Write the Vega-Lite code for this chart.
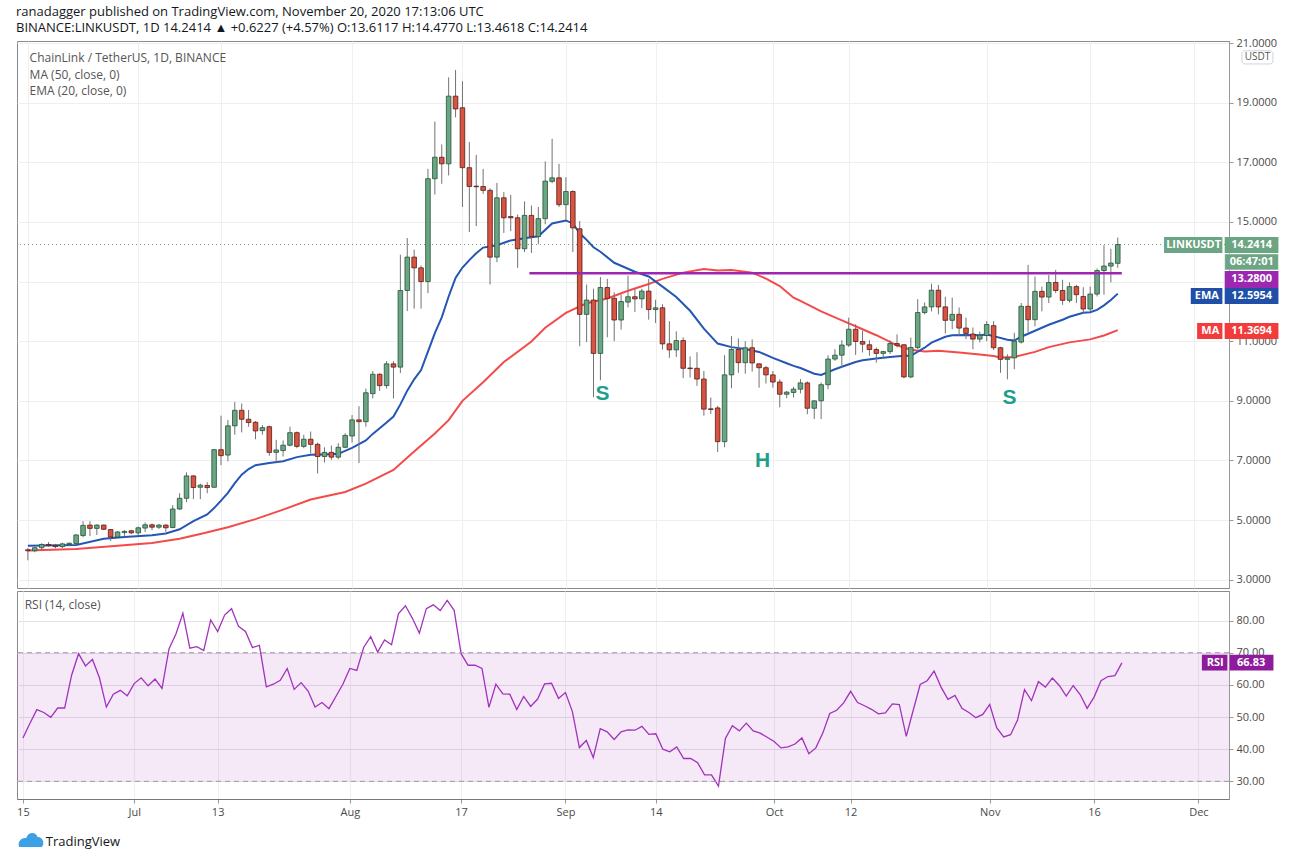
{
  "$schema": "https://vega.github.io/schema/vega-lite/v6.json",
  "description": "LINKUSDT daily candles with EMA20, MA50 and RSI(14), head-and-shoulders neckline",
  "background": "white",
  "padding": {"left": 16, "top": 5, "right": 0, "bottom": 0},
  "title": {
    "text": "ranadagger published on TradingView.com, November 20, 2020 17:13:06 UTC",
    "subtitle": "BINANCE:LINKUSDT, 1D  14.2414 ▲ +0.6227 (+4.57%) O:13.6117 H:14.4770 L:13.4618 C:14.2414",
    "anchor": "start",
    "font": "Open Sans",
    "fontSize": 13,
    "fontWeight": "normal",
    "color": "#131722",
    "subtitleFont": "Open Sans",
    "subtitleFontSize": 13,
    "subtitleColor": "#131722",
    "subtitlePadding": 3,
    "offset": 2
  },
  "data": {"values": [{}]},
  "datasets": {
    "candles": [
      {"date": "2020-06-15", "open": 4.0, "high": 4.06, "low": 3.65, "close": 3.97, "rsi": 43.5},
      {"date": "2020-06-16", "open": 3.97, "high": 4.1, "low": 3.92, "close": 4.07, "rsi": 48.0},
      {"date": "2020-06-17", "open": 4.07, "high": 4.22, "low": 4.0, "close": 4.18, "rsi": 52.3},
      {"date": "2020-06-18", "open": 4.18, "high": 4.26, "low": 4.1, "close": 4.15, "rsi": 51.4},
      {"date": "2020-06-19", "open": 4.15, "high": 4.2, "low": 4.05, "close": 4.11, "rsi": 49.9},
      {"date": "2020-06-20", "open": 4.11, "high": 4.24, "low": 4.06, "close": 4.2, "rsi": 52.8},
      {"date": "2020-06-21", "open": 4.18, "high": 4.25, "low": 4.14, "close": 4.22, "rsi": 52.8},
      {"date": "2020-06-22", "open": 4.21, "high": 4.52, "low": 4.17, "close": 4.5, "rsi": 63.0},
      {"date": "2020-06-23", "open": 4.48, "high": 4.96, "low": 4.42, "close": 4.82, "rsi": 69.7},
      {"date": "2020-06-24", "open": 4.83, "high": 4.96, "low": 4.46, "close": 4.72, "rsi": 65.9},
      {"date": "2020-06-25", "open": 4.72, "high": 4.86, "low": 4.5, "close": 4.83, "rsi": 67.9},
      {"date": "2020-06-26", "open": 4.83, "high": 4.85, "low": 4.66, "close": 4.69, "rsi": 62.2},
      {"date": "2020-06-27", "open": 4.68, "high": 4.7, "low": 4.3, "close": 4.43, "rsi": 53.1},
      {"date": "2020-06-28", "open": 4.43, "high": 4.63, "low": 4.4, "close": 4.6, "rsi": 57.1},
      {"date": "2020-06-29", "open": 4.58, "high": 4.66, "low": 4.44, "close": 4.62, "rsi": 58.3},
      {"date": "2020-06-30", "open": 4.64, "high": 4.67, "low": 4.53, "close": 4.57, "rsi": 56.6},
      {"date": "2020-07-01", "open": 4.57, "high": 4.78, "low": 4.5, "close": 4.74, "rsi": 60.4},
      {"date": "2020-07-02", "open": 4.73, "high": 4.92, "low": 4.6, "close": 4.84, "rsi": 62.2},
      {"date": "2020-07-03", "open": 4.84, "high": 4.88, "low": 4.66, "close": 4.76, "rsi": 59.7},
      {"date": "2020-07-04", "open": 4.76, "high": 4.87, "low": 4.7, "close": 4.83, "rsi": 61.8},
      {"date": "2020-07-05", "open": 4.83, "high": 4.86, "low": 4.6, "close": 4.74, "rsi": 58.9},
      {"date": "2020-07-06", "open": 4.75, "high": 5.5, "low": 4.72, "close": 5.37, "rsi": 71.2},
      {"date": "2020-07-07", "open": 5.37, "high": 5.9, "low": 5.34, "close": 5.73, "rsi": 75.8},
      {"date": "2020-07-08", "open": 5.73, "high": 6.6, "low": 5.6, "close": 6.48, "rsi": 82.3},
      {"date": "2020-07-09", "open": 6.48, "high": 6.5, "low": 5.7, "close": 6.09, "rsi": 71.4},
      {"date": "2020-07-10", "open": 6.1, "high": 6.22, "low": 5.7, "close": 6.17, "rsi": 71.9},
      {"date": "2020-07-11", "open": 6.16, "high": 6.27, "low": 5.9, "close": 6.09, "rsi": 70.7},
      {"date": "2020-07-12", "open": 6.1, "high": 7.38, "low": 6.08, "close": 7.36, "rsi": 80.2},
      {"date": "2020-07-13", "open": 7.36, "high": 8.5, "low": 6.84, "close": 7.16, "rsi": 76.6},
      {"date": "2020-07-14", "open": 7.18, "high": 8.36, "low": 6.97, "close": 8.16, "rsi": 81.7},
      {"date": "2020-07-15", "open": 8.16, "high": 8.96, "low": 7.86, "close": 8.68, "rsi": 83.7},
      {"date": "2020-07-16", "open": 8.68, "high": 8.91, "low": 7.94, "close": 8.38, "rsi": 78.2},
      {"date": "2020-07-17", "open": 8.38, "high": 8.69, "low": 8.13, "close": 8.27, "rsi": 76.6},
      {"date": "2020-07-18", "open": 8.28, "high": 8.32, "low": 7.71, "close": 7.99, "rsi": 71.6},
      {"date": "2020-07-19", "open": 8.0, "high": 8.19, "low": 7.86, "close": 8.1, "rsi": 72.3},
      {"date": "2020-07-20", "open": 8.13, "high": 8.17, "low": 7.16, "close": 7.27, "rsi": 59.4},
      {"date": "2020-07-21", "open": 7.27, "high": 7.69, "low": 6.93, "close": 7.35, "rsi": 60.2},
      {"date": "2020-07-22", "open": 7.33, "high": 7.67, "low": 7.13, "close": 7.51, "rsi": 61.4},
      {"date": "2020-07-23", "open": 7.51, "high": 8.13, "low": 7.47, "close": 7.93, "rsi": 65.1},
      {"date": "2020-07-24", "open": 7.93, "high": 7.97, "low": 7.41, "close": 7.47, "rsi": 58.6},
      {"date": "2020-07-25", "open": 7.47, "high": 7.86, "low": 7.41, "close": 7.71, "rsi": 60.7},
      {"date": "2020-07-26", "open": 7.71, "high": 7.97, "low": 7.24, "close": 7.54, "rsi": 58.1},
      {"date": "2020-07-27", "open": 7.54, "high": 7.6, "low": 6.56, "close": 7.13, "rsi": 53.1},
      {"date": "2020-07-28", "open": 7.13, "high": 7.44, "low": 6.93, "close": 7.27, "rsi": 54.5},
      {"date": "2020-07-29", "open": 7.27, "high": 7.5, "low": 7.02, "close": 7.11, "rsi": 52.6},
      {"date": "2020-07-30", "open": 7.11, "high": 7.58, "low": 7.04, "close": 7.44, "rsi": 56.4},
      {"date": "2020-07-31", "open": 7.44, "high": 7.91, "low": 7.41, "close": 7.84, "rsi": 60.2},
      {"date": "2020-08-01", "open": 7.82, "high": 8.52, "low": 7.6, "close": 8.36, "rsi": 65.1},
      {"date": "2020-08-02", "open": 8.36, "high": 8.82, "low": 6.91, "close": 8.3, "rsi": 64.5},
      {"date": "2020-08-03", "open": 8.3, "high": 9.41, "low": 8.13, "close": 9.27, "rsi": 71.7},
      {"date": "2020-08-04", "open": 9.24, "high": 10.0, "low": 9.08, "close": 9.89, "rsi": 75.0},
      {"date": "2020-08-05", "open": 9.89, "high": 9.92, "low": 9.33, "close": 9.51, "rsi": 70.2},
      {"date": "2020-08-06", "open": 9.51, "high": 10.33, "low": 9.41, "close": 10.24, "rsi": 74.0},
      {"date": "2020-08-07", "open": 10.24, "high": 10.33, "low": 9.08, "close": 10.13, "rsi": 72.5},
      {"date": "2020-08-08", "open": 10.13, "high": 13.9, "low": 9.93, "close": 12.7, "rsi": 82.2},
      {"date": "2020-08-09", "open": 12.7, "high": 14.46, "low": 12.01, "close": 13.82, "rsi": 84.6},
      {"date": "2020-08-10", "open": 13.82, "high": 14.07, "low": 12.09, "close": 13.46, "rsi": 80.7},
      {"date": "2020-08-11", "open": 13.46, "high": 13.54, "low": 12.09, "close": 13.0, "rsi": 76.1},
      {"date": "2020-08-12", "open": 13.0, "high": 16.78, "low": 12.61, "close": 16.45, "rsi": 83.7},
      {"date": "2020-08-13", "open": 16.45, "high": 18.37, "low": 15.92, "close": 17.17, "rsi": 84.9},
      {"date": "2020-08-14", "open": 17.17, "high": 17.6, "low": 16.28, "close": 16.95, "rsi": 83.1},
      {"date": "2020-08-15", "open": 16.95, "high": 19.85, "low": 16.56, "close": 19.22, "rsi": 86.3},
      {"date": "2020-08-16", "open": 19.22, "high": 20.1, "low": 18.51, "close": 18.79, "rsi": 83.2},
      {"date": "2020-08-17", "open": 18.83, "high": 19.72, "low": 15.5, "close": 16.82, "rsi": 69.7},
      {"date": "2020-08-18", "open": 16.82, "high": 17.68, "low": 14.66, "close": 16.19, "rsi": 66.1},
      {"date": "2020-08-19", "open": 16.2, "high": 17.25, "low": 14.86, "close": 16.18, "rsi": 66.1},
      {"date": "2020-08-20", "open": 16.19, "high": 16.78, "low": 15.94, "close": 16.06, "rsi": 65.1},
      {"date": "2020-08-21", "open": 16.06, "high": 16.13, "low": 12.9, "close": 13.82, "rsi": 53.0},
      {"date": "2020-08-22", "open": 13.82, "high": 16.31, "low": 13.65, "close": 15.81, "rsi": 60.2},
      {"date": "2020-08-23", "open": 15.81, "high": 16.0, "low": 14.63, "close": 15.14, "rsi": 57.2},
      {"date": "2020-08-24", "open": 15.18, "high": 15.91, "low": 14.69, "close": 15.14, "rsi": 57.1},
      {"date": "2020-08-25", "open": 15.14, "high": 15.25, "low": 13.46, "close": 14.1, "rsi": 52.3},
      {"date": "2020-08-26", "open": 14.1, "high": 15.69, "low": 13.99, "close": 15.22, "rsi": 56.4},
      {"date": "2020-08-27", "open": 15.22, "high": 15.55, "low": 13.96, "close": 14.51, "rsi": 53.3},
      {"date": "2020-08-28", "open": 14.51, "high": 15.5, "low": 14.25, "close": 15.11, "rsi": 55.6},
      {"date": "2020-08-29", "open": 15.11, "high": 17.03, "low": 14.92, "close": 16.37, "rsi": 60.3},
      {"date": "2020-08-30", "open": 16.36, "high": 17.79, "low": 16.3, "close": 16.48, "rsi": 60.5},
      {"date": "2020-08-31", "open": 16.48, "high": 16.95, "low": 15.5, "close": 15.58, "rsi": 55.8},
      {"date": "2020-09-01", "open": 15.58, "high": 16.5, "low": 15.07, "close": 16.02, "rsi": 57.6},
      {"date": "2020-09-02", "open": 16.02, "high": 16.06, "low": 13.99, "close": 14.8, "rsi": 51.7},
      {"date": "2020-09-03", "open": 14.77, "high": 15.03, "low": 10.83, "close": 11.9, "rsi": 40.5},
      {"date": "2020-09-04", "open": 11.9, "high": 12.9, "low": 10.97, "close": 12.38, "rsi": 42.7},
      {"date": "2020-09-05", "open": 12.38, "high": 12.76, "low": 9.12, "close": 10.59, "rsi": 37.4},
      {"date": "2020-09-06", "open": 10.59, "high": 13.15, "low": 9.69, "close": 12.8, "rsi": 46.4},
      {"date": "2020-09-07", "open": 12.8, "high": 13.09, "low": 11.13, "close": 12.44, "rsi": 45.4},
      {"date": "2020-09-08", "open": 12.44, "high": 12.64, "low": 11.0, "close": 11.71, "rsi": 43.0},
      {"date": "2020-09-09", "open": 11.71, "high": 12.56, "low": 11.39, "close": 12.33, "rsi": 45.4},
      {"date": "2020-09-10", "open": 12.31, "high": 13.2, "low": 12.13, "close": 12.49, "rsi": 46.0},
      {"date": "2020-09-11", "open": 12.49, "high": 12.76, "low": 11.98, "close": 12.42, "rsi": 45.9},
      {"date": "2020-09-12", "open": 12.42, "high": 12.76, "low": 12.11, "close": 12.68, "rsi": 47.1},
      {"date": "2020-09-13", "open": 12.68, "high": 13.09, "low": 11.72, "close": 12.06, "rsi": 44.6},
      {"date": "2020-09-14", "open": 12.06, "high": 12.39, "low": 11.61, "close": 12.12, "rsi": 44.8},
      {"date": "2020-09-15", "open": 12.12, "high": 12.24, "low": 10.72, "close": 10.91, "rsi": 40.0},
      {"date": "2020-09-16", "open": 10.91, "high": 11.67, "low": 10.44, "close": 10.71, "rsi": 39.2},
      {"date": "2020-09-17", "open": 10.71, "high": 11.33, "low": 10.47, "close": 11.02, "rsi": 40.7},
      {"date": "2020-09-18", "open": 11.02, "high": 11.13, "low": 9.76, "close": 10.09, "rsi": 37.1},
      {"date": "2020-09-19", "open": 10.1, "high": 10.49, "low": 9.78, "close": 10.08, "rsi": 37.1},
      {"date": "2020-09-20", "open": 10.09, "high": 10.63, "low": 9.5, "close": 9.73, "rsi": 35.8},
      {"date": "2020-09-21", "open": 9.73, "high": 10.0, "low": 8.5, "close": 8.72, "rsi": 32.0},
      {"date": "2020-09-22", "open": 8.73, "high": 9.11, "low": 8.56, "close": 8.71, "rsi": 32.0},
      {"date": "2020-09-23", "open": 8.76, "high": 8.83, "low": 7.28, "close": 7.63, "rsi": 28.5},
      {"date": "2020-09-24", "open": 7.63, "high": 10.53, "low": 7.44, "close": 9.87, "rsi": 43.3},
      {"date": "2020-09-25", "open": 9.87, "high": 11.17, "low": 9.42, "close": 10.72, "rsi": 47.3},
      {"date": "2020-09-26", "open": 10.72, "high": 11.09, "low": 9.94, "close": 10.28, "rsi": 45.7},
      {"date": "2020-09-27", "open": 10.28, "high": 11.0, "low": 9.91, "close": 10.78, "rsi": 48.1},
      {"date": "2020-09-28", "open": 10.78, "high": 11.06, "low": 9.98, "close": 10.27, "rsi": 45.7},
      {"date": "2020-09-29", "open": 10.24, "high": 10.25, "low": 9.44, "close": 10.11, "rsi": 45.0},
      {"date": "2020-09-30", "open": 10.11, "high": 10.17, "low": 9.58, "close": 9.87, "rsi": 43.7},
      {"date": "2020-10-01", "open": 9.87, "high": 10.0, "low": 9.44, "close": 9.63, "rsi": 42.4},
      {"date": "2020-10-02", "open": 9.63, "high": 9.72, "low": 8.78, "close": 9.22, "rsi": 40.4},
      {"date": "2020-10-03", "open": 9.22, "high": 9.33, "low": 9.09, "close": 9.29, "rsi": 40.7},
      {"date": "2020-10-04", "open": 9.28, "high": 9.47, "low": 9.11, "close": 9.39, "rsi": 41.6},
      {"date": "2020-10-05", "open": 9.39, "high": 9.73, "low": 9.25, "close": 9.6, "rsi": 43.5},
      {"date": "2020-10-06", "open": 9.6, "high": 9.65, "low": 8.55, "close": 8.75, "rsi": 38.6},
      {"date": "2020-10-07", "open": 8.75, "high": 9.0, "low": 8.39, "close": 9.0, "rsi": 40.4},
      {"date": "2020-10-08", "open": 9.0, "high": 9.61, "low": 8.39, "close": 9.54, "rsi": 45.0},
      {"date": "2020-10-09", "open": 9.54, "high": 10.53, "low": 9.39, "close": 10.4, "rsi": 51.1},
      {"date": "2020-10-10", "open": 10.4, "high": 10.73, "low": 10.34, "close": 10.53, "rsi": 52.1},
      {"date": "2020-10-11", "open": 10.53, "high": 11.03, "low": 10.12, "close": 10.87, "rsi": 54.4},
      {"date": "2020-10-12", "open": 10.87, "high": 11.79, "low": 10.81, "close": 11.4, "rsi": 58.0},
      {"date": "2020-10-13", "open": 11.4, "high": 11.57, "low": 10.54, "close": 10.99, "rsi": 54.5},
      {"date": "2020-10-14", "open": 10.99, "high": 11.35, "low": 10.62, "close": 10.9, "rsi": 53.5},
      {"date": "2020-10-15", "open": 10.88, "high": 11.03, "low": 10.51, "close": 10.72, "rsi": 52.4},
      {"date": "2020-10-16", "open": 10.72, "high": 10.79, "low": 10.28, "close": 10.59, "rsi": 51.0},
      {"date": "2020-10-17", "open": 10.59, "high": 10.68, "low": 10.4, "close": 10.65, "rsi": 51.3},
      {"date": "2020-10-18", "open": 10.65, "high": 11.03, "low": 10.57, "close": 10.92, "rsi": 54.1},
      {"date": "2020-10-19", "open": 10.92, "high": 11.23, "low": 10.79, "close": 10.86, "rsi": 53.9},
      {"date": "2020-10-20", "open": 10.88, "high": 10.9, "low": 9.76, "close": 9.8, "rsi": 44.0},
      {"date": "2020-10-21", "open": 9.8, "high": 11.12, "low": 9.76, "close": 10.79, "rsi": 52.1},
      {"date": "2020-10-22", "open": 10.79, "high": 12.41, "low": 10.73, "close": 11.96, "rsi": 60.1},
      {"date": "2020-10-23", "open": 11.96, "high": 12.3, "low": 11.9, "close": 12.15, "rsi": 61.3},
      {"date": "2020-10-24", "open": 12.15, "high": 12.93, "low": 12.0, "close": 12.71, "rsi": 64.3},
      {"date": "2020-10-25", "open": 12.71, "high": 12.89, "low": 11.9, "close": 12.15, "rsi": 59.3},
      {"date": "2020-10-26", "open": 12.15, "high": 12.49, "low": 11.26, "close": 11.7, "rsi": 55.5},
      {"date": "2020-10-27", "open": 11.7, "high": 12.46, "low": 11.4, "close": 11.9, "rsi": 56.7},
      {"date": "2020-10-28", "open": 11.9, "high": 12.13, "low": 11.18, "close": 11.44, "rsi": 52.7},
      {"date": "2020-10-29", "open": 11.44, "high": 11.79, "low": 11.07, "close": 11.26, "rsi": 51.4},
      {"date": "2020-10-30", "open": 11.24, "high": 11.46, "low": 10.73, "close": 11.07, "rsi": 49.8},
      {"date": "2020-10-31", "open": 11.07, "high": 11.32, "low": 10.96, "close": 11.2, "rsi": 50.8},
      {"date": "2020-11-01", "open": 11.19, "high": 11.67, "low": 11.0, "close": 11.56, "rsi": 53.9},
      {"date": "2020-11-02", "open": 11.52, "high": 11.67, "low": 10.7, "close": 10.78, "rsi": 46.7},
      {"date": "2020-11-03", "open": 10.78, "high": 10.81, "low": 9.94, "close": 10.39, "rsi": 43.8},
      {"date": "2020-11-04", "open": 10.39, "high": 10.56, "low": 9.72, "close": 10.44, "rsi": 44.5},
      {"date": "2020-11-05", "open": 10.44, "high": 11.28, "low": 10.06, "close": 11.0, "rsi": 49.1},
      {"date": "2020-11-06", "open": 10.97, "high": 12.28, "low": 10.92, "close": 12.17, "rsi": 58.5},
      {"date": "2020-11-07", "open": 12.17, "high": 13.56, "low": 11.3, "close": 11.72, "rsi": 55.1},
      {"date": "2020-11-08", "open": 11.72, "high": 13.17, "low": 11.5, "close": 12.67, "rsi": 61.0},
      {"date": "2020-11-09", "open": 12.67, "high": 12.83, "low": 12.0, "close": 12.48, "rsi": 59.3},
      {"date": "2020-11-10", "open": 12.48, "high": 13.22, "low": 12.28, "close": 12.97, "rsi": 62.1},
      {"date": "2020-11-11", "open": 12.97, "high": 13.39, "low": 12.61, "close": 12.7, "rsi": 59.8},
      {"date": "2020-11-12", "open": 12.7, "high": 13.06, "low": 12.22, "close": 12.37, "rsi": 56.5},
      {"date": "2020-11-13", "open": 12.37, "high": 12.97, "low": 12.3, "close": 12.83, "rsi": 59.8},
      {"date": "2020-11-14", "open": 12.83, "high": 12.89, "low": 12.28, "close": 12.56, "rsi": 57.0},
      {"date": "2020-11-15", "open": 12.5, "high": 12.81, "low": 11.94, "close": 12.08, "rsi": 52.7},
      {"date": "2020-11-16", "open": 12.08, "high": 12.83, "low": 12.0, "close": 12.58, "rsi": 56.2},
      {"date": "2020-11-17", "open": 12.58, "high": 13.44, "low": 12.5, "close": 13.37, "rsi": 61.3},
      {"date": "2020-11-18", "open": 13.37, "high": 14.22, "low": 12.56, "close": 13.52, "rsi": 62.6},
      {"date": "2020-11-19", "open": 13.52, "high": 14.1, "low": 12.97, "close": 13.62, "rsi": 62.9},
      {"date": "2020-11-20", "open": 13.6117, "high": 14.477, "low": 13.4618, "close": 14.2414, "rsi": 66.83}
    ],
    "ema": [
      {"date": "2020-06-15", "value": 4.14}, {"date": "2020-06-22", "value": 4.16},
      {"date": "2020-06-26", "value": 4.37}, {"date": "2020-06-29", "value": 4.43},
      {"date": "2020-07-03", "value": 4.49}, {"date": "2020-07-05", "value": 4.55},
      {"date": "2020-07-07", "value": 4.69}, {"date": "2020-07-09", "value": 4.96},
      {"date": "2020-07-11", "value": 5.19}, {"date": "2020-07-12", "value": 5.4},
      {"date": "2020-07-13", "value": 5.65}, {"date": "2020-07-14", "value": 5.91},
      {"date": "2020-07-15", "value": 6.24}, {"date": "2020-07-16", "value": 6.52},
      {"date": "2020-07-17", "value": 6.71}, {"date": "2020-07-18", "value": 6.84},
      {"date": "2020-07-20", "value": 6.91}, {"date": "2020-07-22", "value": 6.97},
      {"date": "2020-07-24", "value": 7.11}, {"date": "2020-07-26", "value": 7.19},
      {"date": "2020-07-28", "value": 7.2}, {"date": "2020-07-30", "value": 7.22},
      {"date": "2020-08-01", "value": 7.42}, {"date": "2020-08-03", "value": 7.67},
      {"date": "2020-08-04", "value": 7.89}, {"date": "2020-08-06", "value": 8.27},
      {"date": "2020-08-07", "value": 8.47}, {"date": "2020-08-08", "value": 8.88},
      {"date": "2020-08-09", "value": 9.34}, {"date": "2020-08-10", "value": 9.72},
      {"date": "2020-08-11", "value": 10.03}, {"date": "2020-08-12", "value": 10.65},
      {"date": "2020-08-13", "value": 11.27}, {"date": "2020-08-14", "value": 11.8},
      {"date": "2020-08-15", "value": 12.5}, {"date": "2020-08-16", "value": 13.12},
      {"date": "2020-08-17", "value": 13.47}, {"date": "2020-08-18", "value": 13.72},
      {"date": "2020-08-19", "value": 13.95}, {"date": "2020-08-20", "value": 14.14},
      {"date": "2020-08-22", "value": 14.22}, {"date": "2020-08-24", "value": 14.38},
      {"date": "2020-08-26", "value": 14.45}, {"date": "2020-08-28", "value": 14.52},
      {"date": "2020-08-30", "value": 14.95}, {"date": "2020-09-01", "value": 15.05},
      {"date": "2020-09-02", "value": 14.95}, {"date": "2020-09-03", "value": 14.62},
      {"date": "2020-09-04", "value": 14.4}, {"date": "2020-09-05", "value": 14.15},
      {"date": "2020-09-06", "value": 14.0}, {"date": "2020-09-08", "value": 13.63},
      {"date": "2020-09-11", "value": 13.33}, {"date": "2020-09-13", "value": 13.17},
      {"date": "2020-09-15", "value": 12.83}, {"date": "2020-09-17", "value": 12.48},
      {"date": "2020-09-19", "value": 12.02}, {"date": "2020-09-21", "value": 11.42},
      {"date": "2020-09-23", "value": 10.92}, {"date": "2020-09-25", "value": 10.8},
      {"date": "2020-09-27", "value": 10.74}, {"date": "2020-09-29", "value": 10.64},
      {"date": "2020-10-01", "value": 10.44}, {"date": "2020-10-03", "value": 10.26},
      {"date": "2020-10-04", "value": 10.17}, {"date": "2020-10-05", "value": 10.1},
      {"date": "2020-10-07", "value": 9.91}, {"date": "2020-10-08", "value": 9.87},
      {"date": "2020-10-10", "value": 10.06}, {"date": "2020-10-11", "value": 10.14},
      {"date": "2020-10-13", "value": 10.3}, {"date": "2020-10-14", "value": 10.36},
      {"date": "2020-10-16", "value": 10.42}, {"date": "2020-10-18", "value": 10.47},
      {"date": "2020-10-20", "value": 10.51}, {"date": "2020-10-21", "value": 10.51},
      {"date": "2020-10-23", "value": 10.78}, {"date": "2020-10-24", "value": 10.95},
      {"date": "2020-10-26", "value": 11.15}, {"date": "2020-10-27", "value": 11.2},
      {"date": "2020-10-29", "value": 11.21}, {"date": "2020-10-31", "value": 11.2},
      {"date": "2020-11-01", "value": 11.22}, {"date": "2020-11-02", "value": 11.17},
      {"date": "2020-11-04", "value": 11.05}, {"date": "2020-11-05", "value": 11.02},
      {"date": "2020-11-06", "value": 11.15}, {"date": "2020-11-08", "value": 11.35},
      {"date": "2020-11-10", "value": 11.55}, {"date": "2020-11-12", "value": 11.72},
      {"date": "2020-11-13", "value": 11.82}, {"date": "2020-11-15", "value": 11.95},
      {"date": "2020-11-16", "value": 11.97}, {"date": "2020-11-17", "value": 12.05},
      {"date": "2020-11-18", "value": 12.2}, {"date": "2020-11-19", "value": 12.38},
      {"date": "2020-11-20", "value": 12.5954}
    ],
    "ma": [
      {"date": "2020-06-15", "value": 3.98}, {"date": "2020-06-22", "value": 4.03},
      {"date": "2020-06-28", "value": 4.14}, {"date": "2020-07-03", "value": 4.23},
      {"date": "2020-07-07", "value": 4.37}, {"date": "2020-07-10", "value": 4.53},
      {"date": "2020-07-14", "value": 4.76}, {"date": "2020-07-18", "value": 5.03},
      {"date": "2020-07-22", "value": 5.35}, {"date": "2020-07-26", "value": 5.69},
      {"date": "2020-07-31", "value": 5.94}, {"date": "2020-08-03", "value": 6.22},
      {"date": "2020-08-07", "value": 6.68}, {"date": "2020-08-10", "value": 7.3},
      {"date": "2020-08-13", "value": 7.9}, {"date": "2020-08-15", "value": 8.35},
      {"date": "2020-08-17", "value": 9.0}, {"date": "2020-08-20", "value": 9.62},
      {"date": "2020-08-23", "value": 10.3}, {"date": "2020-08-27", "value": 10.99},
      {"date": "2020-08-29", "value": 11.45}, {"date": "2020-09-01", "value": 11.95},
      {"date": "2020-09-03", "value": 12.17}, {"date": "2020-09-04", "value": 12.27},
      {"date": "2020-09-07", "value": 12.43}, {"date": "2020-09-10", "value": 12.69},
      {"date": "2020-09-13", "value": 12.92}, {"date": "2020-09-15", "value": 13.09},
      {"date": "2020-09-18", "value": 13.3}, {"date": "2020-09-21", "value": 13.42},
      {"date": "2020-09-23", "value": 13.37}, {"date": "2020-09-25", "value": 13.39},
      {"date": "2020-09-28", "value": 13.3}, {"date": "2020-09-30", "value": 13.1},
      {"date": "2020-10-02", "value": 12.85}, {"date": "2020-10-04", "value": 12.46},
      {"date": "2020-10-05", "value": 12.35}, {"date": "2020-10-08", "value": 12.0},
      {"date": "2020-10-11", "value": 11.7}, {"date": "2020-10-13", "value": 11.5},
      {"date": "2020-10-16", "value": 11.2}, {"date": "2020-10-19", "value": 10.86},
      {"date": "2020-10-21", "value": 10.71}, {"date": "2020-10-23", "value": 10.65},
      {"date": "2020-10-25", "value": 10.68}, {"date": "2020-10-28", "value": 10.62},
      {"date": "2020-10-31", "value": 10.55}, {"date": "2020-11-02", "value": 10.5},
      {"date": "2020-11-03", "value": 10.45}, {"date": "2020-11-05", "value": 10.47},
      {"date": "2020-11-08", "value": 10.64}, {"date": "2020-11-10", "value": 10.8},
      {"date": "2020-11-13", "value": 10.96}, {"date": "2020-11-16", "value": 11.06},
      {"date": "2020-11-18", "value": 11.19}, {"date": "2020-11-20", "value": 11.3694}
    ],
    "pattern": [
      {"label": "S", "date": "2020-09-06T07:00:00Z", "price": 9.23},
      {"label": "H", "date": "2020-09-29T12:00:00Z", "price": 6.98},
      {"label": "S", "date": "2020-11-04T07:00:00Z", "price": 9.09}
    ]
  },
  "vconcat": [
    {
      "width": 1212,
      "height": 547,
      "layer": [
        {
          "data": {"name": "ma"},
          "mark": {"type": "line", "color": "#f44a4a", "strokeWidth": 2},
          "encoding": {
            "x": {"field": "date", "type": "temporal", "title": null,
              "scale": {"type": "utc", "nice": false, "domain": [1592105760000, 1607160960000]},
              "axis": {"values": [1592179200000, 1593561600000, 1594598400000, 1596240000000, 1597622400000, 1598918400000, 1600041600000, 1601510400000, 1602460800000, 1604188800000, 1605484800000, 1606780800000],
                "labels": false, "ticks": false, "domain": false, "grid": true, "gridColor": "#efefef"}},
            "y": {"field": "value", "type": "quantitative", "title": null,
              "scale": {"domain": [2.72, 21.07], "nice": false, "zero": false},
              "axis": {"orient": "right", "values": [3, 4, 5, 6, 7, 8, 9, 10, 11, 12, 13, 14, 15, 16, 17, 18, 19, 20, 21],
                "labelExpr": "datum.value == 13 || datum.value == 14 ? '' : format(datum.value, '.4f')",
                "labelOverlap": false, "labelBound": false, "grid": true, "gridColor": "#efefef", "tickSize": 4, "labelPadding": 3, "domainColor": "#999", "tickColor": "#999"}}
          }
        },
        {
          "mark": {"type": "rule", "color": "#6ba583", "strokeDash": [1, 3], "strokeWidth": 1},
          "encoding": {"y": {"datum": 14.2414, "type": "quantitative", "title": null}}
        },
        {
          "data": {"name": "ema"},
          "mark": {"type": "line", "color": "#2456b4", "strokeWidth": 2},
          "encoding": {
            "x": {"field": "date", "type": "temporal", "title": null},
            "y": {"field": "value", "type": "quantitative", "title": null}
          }
        },
        {
          "data": {"name": "candles"},
          "mark": {"type": "rule", "color": "#737375", "strokeWidth": 1},
          "encoding": {
            "x": {"field": "date", "type": "temporal", "title": null},
            "y": {"field": "low", "type": "quantitative", "title": null},
            "y2": {"field": "high"}
          }
        },
        {
          "data": {"name": "candles"},
          "mark": {"type": "bar", "width": 4.6, "strokeWidth": 0.8},
          "encoding": {
            "x": {"field": "date", "type": "temporal", "title": null},
            "y": {"field": "open", "type": "quantitative", "title": null},
            "y2": {"field": "close"},
            "fill": {"condition": {"test": "datum.close >= datum.open", "value": "#6ba583"}, "value": "#d75442"},
            "stroke": {"condition": {"test": "datum.close >= datum.open", "value": "#225437"}, "value": "#5b1a13"}
          }
        },
        {
          "mark": {"type": "rule", "color": "#9c27b0", "strokeWidth": 2.5},
          "encoding": {
            "x": {"datum": 1598461200000, "type": "temporal", "title": null},
            "x2": {"datum": 1605880800000},
            "y": {"datum": 13.28, "type": "quantitative", "title": null}
          }
        },
        {
          "data": {"name": "pattern"},
          "mark": {"type": "text", "font": "Liberation Sans", "fontSize": 21, "fontWeight": "bold", "color": "#1e9e8c", "baseline": "middle", "align": "center"},
          "encoding": {
            "x": {"field": "date", "type": "temporal", "title": null},
            "y": {"field": "price", "type": "quantitative", "title": null},
            "text": {"field": "label"}
          }
        },
        {
          "mark": {"type": "text", "text": "ChainLink / TetherUS, 1D, BINANCE", "font": "Open Sans", "fontSize": 12, "color": "#555555", "align": "left", "baseline": "middle"},
          "encoding": {
            "x": {"datum": 1592200800000, "type": "temporal", "title": null},
            "y": {"datum": 20.5, "type": "quantitative", "title": null}
          }
        },
        {
          "mark": {"type": "text", "text": "MA (50, close, 0)", "font": "Open Sans", "fontSize": 12, "color": "#555555", "align": "left", "baseline": "middle"},
          "encoding": {
            "x": {"datum": 1592200800000, "type": "temporal", "title": null},
            "y": {"datum": 19.93, "type": "quantitative", "title": null}
          }
        },
        {
          "mark": {"type": "text", "text": "EMA (20, close, 0)", "font": "Open Sans", "fontSize": 12, "color": "#555555", "align": "left", "baseline": "middle"},
          "encoding": {
            "x": {"datum": 1592200800000, "type": "temporal", "title": null},
            "y": {"datum": 19.4, "type": "quantitative", "title": null}
          }
        },
        {
          "mark": {"type": "rect", "fill": "white", "stroke": "#d1d4dc", "cornerRadius": 3},
          "encoding": {
            "x": {"datum": 1607385600000, "type": "temporal", "title": null},
            "x2": {"datum": 1607774400000},
            "y": {"datum": 20.74, "type": "quantitative", "title": null},
            "y2": {"datum": 20.3}
          }
        },
        {
          "mark": {"type": "text", "text": "USDT", "font": "Open Sans", "fontSize": 10, "color": "#555555", "align": "center", "baseline": "middle"},
          "encoding": {
            "x": {"datum": 1607580000000, "type": "temporal", "title": null},
            "y": {"datum": 20.52, "type": "quantitative", "title": null}
          }
        },
        {
          "mark": {"type": "rect", "fill": "#6ba583"},
          "encoding": {
            "x": {"datum": 1606410000000, "type": "temporal", "title": null},
            "x2": {"datum": 1607140800000},
            "y": {"datum": 14.497, "type": "quantitative", "title": null},
            "y2": {"datum": 13.96}
          }
        },
        {
          "mark": {"type": "rect", "fill": "#1f4fa6"},
          "encoding": {
            "x": {"datum": 1606744800000, "type": "temporal", "title": null},
            "x2": {"datum": 1607140800000},
            "y": {"datum": 12.785, "type": "quantitative", "title": null},
            "y2": {"datum": 12.248}
          }
        },
        {
          "mark": {"type": "rect", "fill": "#f23c3c"},
          "encoding": {
            "x": {"datum": 1606824000000, "type": "temporal", "title": null},
            "x2": {"datum": 1607140800000},
            "y": {"datum": 11.611, "type": "quantitative", "title": null},
            "y2": {"datum": 11.074}
          }
        },
        {
          "mark": {"type": "rect", "fill": "#6ba583"},
          "encoding": {
            "x": {"datum": 1607169600000, "type": "temporal", "title": null},
            "x2": {"datum": 1607842800000},
            "y": {"datum": 14.497, "type": "quantitative", "title": null},
            "y2": {"datum": 13.96}
          }
        },
        {
          "mark": {"type": "rect", "fill": "#6ba583", "stroke": "white", "strokeWidth": 0.5},
          "encoding": {
            "x": {"datum": 1607169600000, "type": "temporal", "title": null},
            "x2": {"datum": 1607842800000},
            "y": {"datum": 13.926, "type": "quantitative", "title": null},
            "y2": {"datum": 13.39}
          }
        },
        {
          "mark": {"type": "rect", "fill": "#9c27b0"},
          "encoding": {
            "x": {"datum": 1607169600000, "type": "temporal", "title": null},
            "x2": {"datum": 1607842800000},
            "y": {"datum": 13.356, "type": "quantitative", "title": null},
            "y2": {"datum": 12.785}
          }
        },
        {
          "mark": {"type": "rect", "fill": "#1f4fa6"},
          "encoding": {
            "x": {"datum": 1607169600000, "type": "temporal", "title": null},
            "x2": {"datum": 1607842800000},
            "y": {"datum": 12.785, "type": "quantitative", "title": null},
            "y2": {"datum": 12.248}
          }
        },
        {
          "mark": {"type": "rect", "fill": "#f23c3c"},
          "encoding": {
            "x": {"datum": 1607169600000, "type": "temporal", "title": null},
            "x2": {"datum": 1607842800000},
            "y": {"datum": 11.611, "type": "quantitative", "title": null},
            "y2": {"datum": 11.074}
          }
        },
        {
          "mark": {"type": "text", "text": "LINKUSDT", "font": "Open Sans", "fontSize": 11, "fontWeight": "bold", "color": "white", "align": "center", "baseline": "middle"},
          "encoding": {
            "x": {"datum": 1606780800000, "type": "temporal", "title": null},
            "y": {"datum": 14.23, "type": "quantitative", "title": null}
          }
        },
        {
          "mark": {"type": "text", "text": "EMA", "font": "Open Sans", "fontSize": 11, "fontWeight": "bold", "color": "white", "align": "center", "baseline": "middle"},
          "encoding": {
            "x": {"datum": 1606946400000, "type": "temporal", "title": null},
            "y": {"datum": 12.517, "type": "quantitative", "title": null}
          }
        },
        {
          "mark": {"type": "text", "text": "MA", "font": "Open Sans", "fontSize": 11, "fontWeight": "bold", "color": "white", "align": "center", "baseline": "middle"},
          "encoding": {
            "x": {"datum": 1606989600000, "type": "temporal", "title": null},
            "y": {"datum": 11.343, "type": "quantitative", "title": null}
          }
        },
        {
          "mark": {"type": "text", "text": "14.2414", "font": "Open Sans", "fontSize": 11, "fontWeight": "bold", "color": "white", "align": "center", "baseline": "middle"},
          "encoding": {
            "x": {"datum": 1607508000000, "type": "temporal", "title": null},
            "y": {"datum": 14.23, "type": "quantitative", "title": null}
          }
        },
        {
          "mark": {"type": "text", "text": "06:47:01", "font": "Open Sans", "fontSize": 11, "fontWeight": "bold", "color": "white", "align": "center", "baseline": "middle"},
          "encoding": {
            "x": {"datum": 1607508000000, "type": "temporal", "title": null},
            "y": {"datum": 13.658, "type": "quantitative", "title": null}
          }
        },
        {
          "mark": {"type": "text", "text": "13.2800", "font": "Open Sans", "fontSize": 11, "fontWeight": "bold", "color": "white", "align": "center", "baseline": "middle"},
          "encoding": {
            "x": {"datum": 1607508000000, "type": "temporal", "title": null},
            "y": {"datum": 13.07, "type": "quantitative", "title": null}
          }
        },
        {
          "mark": {"type": "text", "text": "12.5954", "font": "Open Sans", "fontSize": 11, "fontWeight": "bold", "color": "white", "align": "center", "baseline": "middle"},
          "encoding": {
            "x": {"datum": 1607508000000, "type": "temporal", "title": null},
            "y": {"datum": 12.517, "type": "quantitative", "title": null}
          }
        },
        {
          "mark": {"type": "text", "text": "11.3694", "font": "Open Sans", "fontSize": 11, "fontWeight": "bold", "color": "white", "align": "center", "baseline": "middle"},
          "encoding": {
            "x": {"datum": 1607508000000, "type": "temporal", "title": null},
            "y": {"datum": 11.343, "type": "quantitative", "title": null}
          }
        }
      ]
    },
    {
      "width": 1212,
      "height": 208,
      "layer": [
        {
          "data": {"name": "candles"},
          "mark": {"type": "line", "color": "#a333bf", "strokeWidth": 1.3},
          "encoding": {
            "x": {"field": "date", "type": "temporal", "title": null,
              "scale": {"type": "utc", "nice": false, "domain": [1592105760000, 1607160960000]},
              "axis": {"values": [1592179200000, 1593561600000, 1594598400000, 1596240000000, 1597622400000, 1598918400000, 1600041600000, 1601510400000, 1602460800000, 1604188800000, 1605484800000, 1606780800000],
                "labelExpr": "utcdate(datum.value) == 1 ? utcFormat(datum.value, '%b') : utcFormat(datum.value, '%-d')",
                "grid": true, "gridColor": "#efefef", "tickSize": 4, "labelPadding": 3, "domainColor": "#777", "tickColor": "#999", "labelFlush": false}},
            "y": {"field": "rsi", "type": "quantitative", "title": null,
              "scale": {"domain": [24.5, 89.2], "nice": false, "zero": false},
              "axis": {"orient": "right", "values": [30, 40, 50, 60, 70, 80], "format": ".2f", "labelOverlap": false, "grid": true, "gridColor": "#e6e0e8", "tickSize": 4, "labelPadding": 3, "domainColor": "#999", "tickColor": "#999"}}
          }
        },
        {
          "mark": {"type": "rect", "fill": "#9c27b0", "opacity": 0.1},
          "encoding": {
            "x": {"datum": 1592105760000, "type": "temporal", "title": null},
            "x2": {"datum": 1607160960000},
            "y": {"datum": 30, "type": "quantitative", "title": null},
            "y2": {"datum": 70}
          }
        },
        {
          "mark": {"type": "rule", "color": "#a394a8", "strokeDash": [5, 4], "strokeWidth": 1},
          "encoding": {"y": {"datum": 70, "type": "quantitative", "title": null}}
        },
        {
          "mark": {"type": "rule", "color": "#a394a8", "strokeDash": [5, 4], "strokeWidth": 1},
          "encoding": {"y": {"datum": 30, "type": "quantitative", "title": null}}
        },
        {
          "mark": {"type": "text", "text": "RSI (14, close)", "font": "Open Sans", "fontSize": 12, "color": "#555555", "align": "left", "baseline": "middle"},
          "encoding": {
            "x": {"datum": 1592200800000, "type": "temporal", "title": null},
            "y": {"datum": 84.9, "type": "quantitative", "title": null}
          }
        },
        {
          "mark": {"type": "rect", "fill": "#8e1a9c"},
          "encoding": {
            "x": {"datum": 1606824000000, "type": "temporal", "title": null},
            "x2": {"datum": 1607140800000},
            "y": {"datum": 69.38, "type": "quantitative", "title": null},
            "y2": {"datum": 64.46}
          }
        },
        {
          "mark": {"type": "rect", "fill": "#8e1a9c"},
          "encoding": {
            "x": {"datum": 1607169600000, "type": "temporal", "title": null},
            "x2": {"datum": 1607713200000},
            "y": {"datum": 69.38, "type": "quantitative", "title": null},
            "y2": {"datum": 64.46}
          }
        },
        {
          "mark": {"type": "text", "text": "RSI", "font": "Open Sans", "fontSize": 11, "fontWeight": "bold", "color": "white", "align": "center", "baseline": "middle"},
          "encoding": {
            "x": {"datum": 1606989600000, "type": "temporal", "title": null},
            "y": {"datum": 66.92, "type": "quantitative", "title": null}
          }
        },
        {
          "mark": {"type": "text", "text": "66.83", "font": "Open Sans", "fontSize": 11, "fontWeight": "bold", "color": "white", "align": "center", "baseline": "middle"},
          "encoding": {
            "x": {"datum": 1607436000000, "type": "temporal", "title": null},
            "y": {"datum": 66.92, "type": "quantitative", "title": null}
          }
        },
        {
          "mark": {"type": "point", "shape": "M-1,0.55C-1.2,0.1,-0.75,-0.3,-0.4,-0.2C-0.3,-0.7,0.4,-0.8,0.55,-0.3C1,-0.35,1.2,0.3,0.9,0.55Z", "size": 560, "filled": true, "fill": "#3ba0e6", "opacity": 1, "strokeWidth": 0},
          "encoding": {
            "x": {"datum": 1592280000000, "type": "temporal", "title": null},
            "y": {"datum": 11.6, "type": "quantitative", "title": null}
          }
        },
        {
          "mark": {"type": "text", "text": "TradingView", "font": "Open Sans", "fontSize": 13, "color": "#131722", "align": "left", "baseline": "middle"},
          "encoding": {
            "x": {"datum": 1592463600000, "type": "temporal", "title": null},
            "y": {"datum": 11.2, "type": "quantitative", "title": null}
          }
        }
      ]
    }
  ],
  "spacing": 1,
  "config": {
    "font": "Open Sans",
    "view": {"stroke": "#8a8a8a", "strokeWidth": 1},
    "axis": {"labelFont": "Open Sans", "labelFontSize": 11, "labelColor": "#4a4a4a"},
    "axisY": {"labelOverlap": false}
  }
}
